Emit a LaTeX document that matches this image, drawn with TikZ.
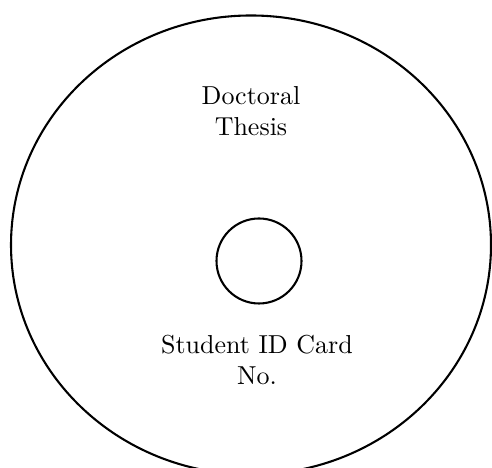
\documentclass[tikz,border=0pt]{standalone}
\usepackage{tikz}
\usetikzlibrary{positioning,calc}

\begin{document}
\begin{tikzpicture}[x=0.385pt, y=0.385pt, line width=0.8pt]
  \useasboundingbox (0,0) rectangle (492,468);
  \clip (0,0) rectangle (492,468);
  \coordinate (disc) at (251,223);
  \coordinate (hole) at (259,207);
  \draw (disc) ellipse [x radius=240, y radius=229.5];
  \draw (hole) circle (42.5);
  % label lines on the disc, above and below the hole
  \node[align=center, inner sep=0pt] (title) at ($(disc)+(0,133.5)$) {Doctoral\\Thesis};
  \node[align=center, inner sep=0pt] (idno) at ($(hole)+(-2,-99)$) {Student ID Card\\No.};
\end{tikzpicture}
\end{document}
